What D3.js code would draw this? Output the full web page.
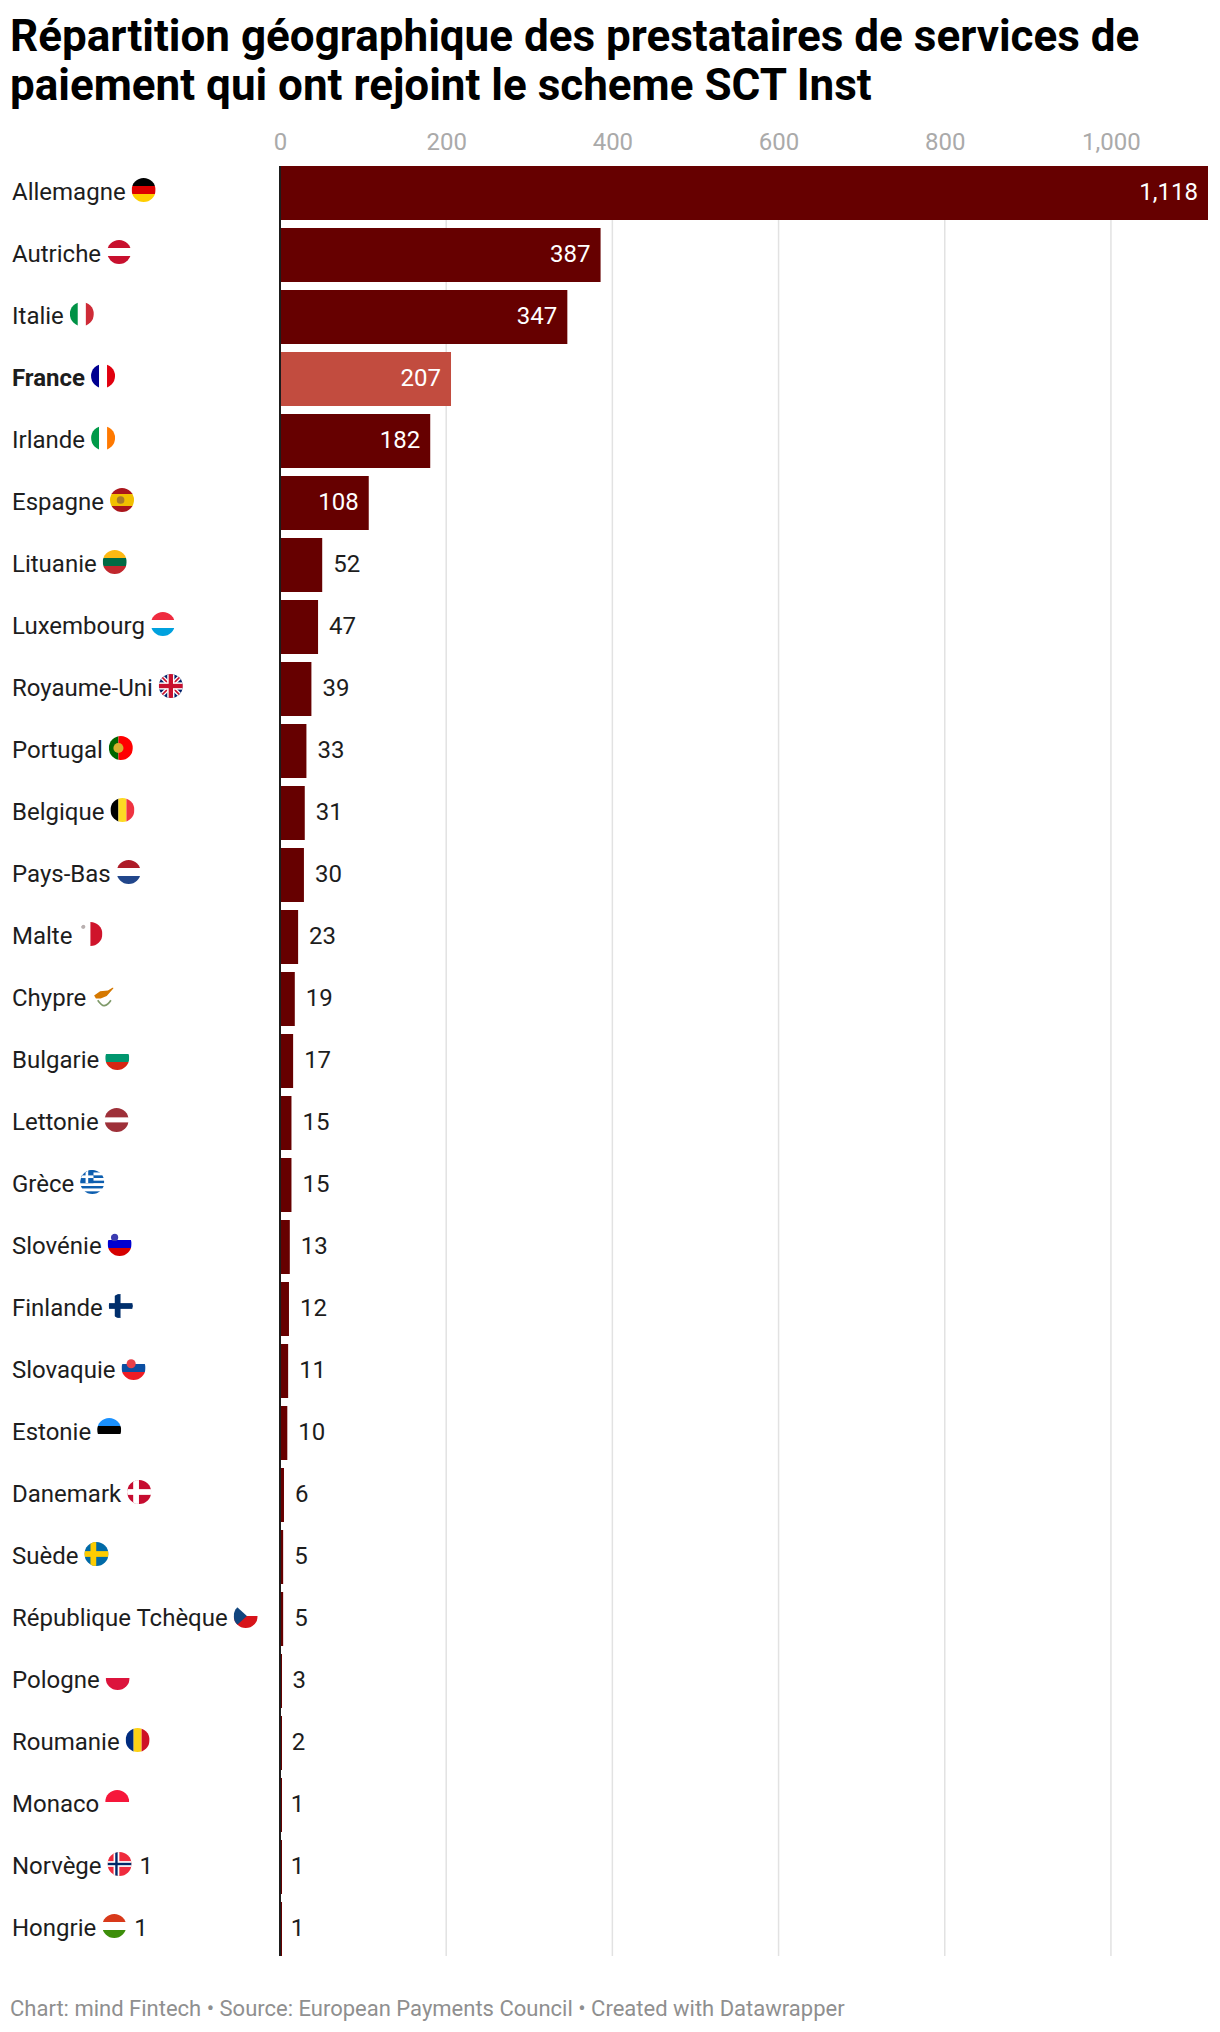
<!DOCTYPE html>
<html>
<head>
<meta charset="utf-8">
<script src="https://cdn.jsdelivr.net/npm/d3@7"></script>
<style>
    html, body { margin: 0; padding: 0; background: #fff; }
    svg { display: block; font-family: Roboto, sans-serif; }
</style>
</head>
<body>
<div id="chart"></div>
<script>
const titleLines = [
    "Répartition géographique des prestataires de services de",
    "paiement qui ont rejoint le scheme SCT Inst"
]
const footer = "Chart: mind Fintech • Source: European Payments Council • Created with Datawrapper"

const countries = ["Allemagne", "Autriche", "Italie", "France", "Irlande", "Espagne", "Lituanie", "Luxembourg",
    "Royaume-Uni", "Portugal", "Belgique", "Pays-Bas", "Malte", "Chypre", "Bulgarie", "Lettonie", "Grèce",
    "Slovénie", "Finlande", "Slovaquie", "Estonie", "Danemark", "Suède", "République Tchèque", "Pologne",
    "Roumanie", "Monaco", "Norvège", "Hongrie"]
const values = [1118, 387, 347, 207, 182, 108, 52, 47, 39, 33, 31, 30, 23, 19, 17, 15, 15, 13, 12, 11, 10, 6, 5, 5, 3, 2, 1, 1, 1]
const labelSuffix = { "Norvège": " 1", "Hongrie": " 1" }
const highlighted = ["France"]
const xTicks = [0, 200, 400, 600, 800, 1000]

// flag styles: h / v stripes with optional weights, or a nordic cross
const flags = {
    "Allemagne": { h: ["#000000", "#dd0000", "#ffce00"] },
    "Autriche": { h: ["#c8102e", "#ffffff", "#c8102e"] },
    "Italie": { v: ["#009246", "#ffffff", "#ce2b37"] },
    "France": { v: ["#000091", "#ffffff", "#e1000f"] },
    "Irlande": { v: ["#009a49", "#ffffff", "#ff7900"] },
    "Espagne": { h: ["#aa151b", "#f1bf00", "#aa151b"], w: [1, 2, 1], crest: ["#a8792a", 0.32, -0.12, 0] },
    "Lituanie": { h: ["#fdb913", "#006a44", "#c1272d"] },
    "Luxembourg": { h: ["#ef2b3f", "#ffffff", "#00a1de"] },
    "Royaume-Uni": { uk: true },
    "Portugal": { v: ["#006600", "#ff0000"], w: [2, 3], crest: ["#d8b030", 0.42, -0.2, 0] },
    "Belgique": { v: ["#000000", "#fdda24", "#ef3340"] },
    "Pays-Bas": { h: ["#ae1c28", "#ffffff", "#21468b"] },
    "Malte": { v: ["#ffffff", "#cf142b"], crest: ["#b9b0b0", 0.18, -0.6, -0.6] },
    "Chypre": { cyprus: true },
    "Bulgarie": { h: ["#ffffff", "#00966e", "#d62612"] },
    "Lettonie": { h: ["#9e3039", "#ffffff", "#9e3039"], w: [2, 1, 2] },
    "Grèce": { greece: true },
    "Slovénie": { h: ["#ffffff", "#0000d0", "#d50000"], crest: ["#3b3bb0", 0.3, -0.42, -0.55] },
    "Finlande": { cross: ["#ffffff", "#002f6c", "#002f6c"] },
    "Slovaquie": { h: ["#ffffff", "#0b4ea2", "#ee1c25"], crest: ["#e8404a", 0.38, -0.2, -0.35] },
    "Estonie": { h: ["#1a91ff", "#000000", "#ffffff"] },
    "Danemark": { cross: ["#c60c30", "#ffffff", "#ffffff"] },
    "Suède": { cross: ["#006aa7", "#fecc00", "#fecc00"] },
    "République Tchèque": { czech: true },
    "Pologne": { h: ["#ffffff", "#dc143c"] },
    "Roumanie": { v: ["#002b7f", "#fcd116", "#ce1126"] },
    "Monaco": { h: ["#f6173a", "#ffffff"] },
    "Norvège": { cross: ["#ef2b3d", "#ffffff", "#002868"] },
    "Hongrie": { h: ["#d8391a", "#ffffff", "#3d8e0b"] }
}

const width = 1220, height = 2032
const margin = { top: 166, left: 280, right: 1209, bottom: 1956 }
const flagR = 12

const x = d3.scaleLinear().domain([0, 1118]).range([margin.left, margin.right])
const y = d3.scaleBand().domain(countries).range([margin.top, margin.bottom]).paddingInner(8 / 62)

const svg = d3.select("#chart").append("svg")
    .attr("width", width)
    .attr("height", height)

svg.append("clipPath").attr("id", "flag-clip")
    .append("circle").attr("r", 1)

// title
svg.append("g").selectAll("text")
    .data(titleLines)
    .join("text")
    .attr("x", 10)
    .attr("y", (d, i) => 50.5 + i * 49.5)
    .attr("font-size", 44)
    .attr("font-weight", 700)
    .attr("fill", "#000")
    .text(d => d)

// grid lines and top axis
svg.append("g").selectAll("line")
    .data(xTicks.slice(1))
    .join("line")
    .attr("x1", d => x(d))
    .attr("x2", d => x(d))
    .attr("y1", margin.top)
    .attr("y2", margin.bottom)
    .attr("stroke", "#e2e2e2")
    .attr("stroke-width", 1.5)

const axis = svg.append("g")
    .attr("transform", "translate(0,141)")
    .call(d3.axisTop(x).tickValues(xTicks).tickSize(0).tickPadding(0).tickFormat(d3.format(",")))
axis.select(".domain").remove()
axis.selectAll("text")
    .attr("font-family", "Roboto, sans-serif")
    .attr("font-size", 24)
    .attr("dy", 9)
    .attr("fill", "#aaaaaa")

// bars stop 1px short of their value, with a sliver left for the smallest ones
svg.append("g").selectAll("rect")
    .data(countries)
    .join("rect")
    .attr("x", x(0))
    .attr("y", d => y(d))
    .attr("width", (d, i) => Math.max(x(values[i]) - x(0) - 1, 2))
    .attr("height", y.bandwidth())
    .attr("fill", d => highlighted.includes(d) ? "#c24c3f" : "#660000")

// zero line
svg.append("line")
    .attr("x1", x(0))
    .attr("x2", x(0))
    .attr("y1", margin.top)
    .attr("y2", margin.bottom)
    .attr("stroke", "#1d1d1d")
    .attr("stroke-width", 2)

// value labels
svg.append("g").selectAll("text")
    .data(countries)
    .join("text")
    .attr("x", (d, i) => values[i] >= 100 ? x(values[i]) - 11 : x(values[i]) + 10)
    .attr("y", d => y(d) + y.bandwidth() / 2 + 7)
    .attr("text-anchor", (d, i) => values[i] >= 100 ? "end" : "start")
    .attr("font-size", 24)
    .attr("fill", (d, i) => values[i] >= 100 ? "#fff" : "#1d1d1d")
    .text((d, i) => d3.format(",")(values[i]))

// country labels, the flag sits between the name and any suffix
const rows = svg.append("g").selectAll("g")
    .data(countries)
    .join("g")
    .attr("transform", d => "translate(12," + (y(d) + y.bandwidth() / 2 + 7) + ")")

rows.append("text")
    .attr("font-size", 24)
    .attr("font-weight", d => highlighted.includes(d) ? 700 : 400)
    .attr("fill", "#1d1d1d")
    .text(d => d)

rows.each(function(d) {
    const row = d3.select(this)
    const w = row.select("text").node().getComputedTextLength()
    const flag = row.append("g")
        .attr("transform", "translate(" + (w + 6 + flagR) + ",-10) scale(" + flagR + ")")
        .attr("clip-path", "url(#flag-clip)")
    drawFlag(flag, flags[d])
    if (labelSuffix[d]) {
        row.append("text")
            .attr("x", w + 6 + 2 * flagR + 8)
            .attr("font-size", 24)
            .attr("fill", "#1d1d1d")
            .text(labelSuffix[d].trim())
    }
})

function box(g, bx, by, w, h, fill) {
    g.append("rect").attr("x", bx).attr("y", by).attr("width", w).attr("height", h).attr("fill", fill)
}

function drawStripes(g, colors, weights, horizontal) {
    const wts = weights || colors.map(() => 1)
    const total = d3.sum(wts)
    const pos = d3.scaleLinear().domain([0, total]).range([-1, 1])
    let acc = 0
    colors.forEach((c, i) => {
        const a = pos(acc), b = pos(acc + wts[i])
        if (horizontal) box(g, -1, a, 2, b - a, c)
        else box(g, a, -1, b - a, 2, c)
        acc += wts[i]
    })
}

function drawFlag(g, f) {
    if (f.h) drawStripes(g, f.h, f.w, true)
    if (f.v) drawStripes(g, f.v, f.w, false)
    if (f.crest) {
        g.append("circle")
            .attr("cx", f.crest[2])
            .attr("cy", f.crest[3])
            .attr("r", f.crest[1])
            .attr("fill", f.crest[0])
    }
    if (f.cross) {
        box(g, -1, -1, 2, 2, f.cross[0])
        box(g, -1, -0.24, 2, 0.48, f.cross[1])
        box(g, -0.5, -1, 0.48, 2, f.cross[1])
        box(g, -1, -0.1, 2, 0.2, f.cross[2])
        box(g, -0.36, -1, 0.2, 2, f.cross[2])
    }
    if (f.uk) {
        box(g, -1, -1, 2, 2, "#012169")
        g.append("path").attr("d", "M-1,-1L1,1M1,-1L-1,1").attr("stroke", "#fff").attr("stroke-width", 0.36)
        g.append("path").attr("d", "M-1,-1L1,1M1,-1L-1,1").attr("stroke", "#c8102e").attr("stroke-width", 0.14)
        box(g, -1, -0.3, 2, 0.6, "#fff")
        box(g, -0.3, -1, 0.6, 2, "#fff")
        box(g, -1, -0.18, 2, 0.36, "#c8102e")
        box(g, -0.18, -1, 0.36, 2, "#c8102e")
    }
    if (f.greece) {
        drawStripes(g, ["#0d5eaf", "#fff", "#0d5eaf", "#fff", "#0d5eaf", "#fff", "#0d5eaf", "#fff", "#0d5eaf"], null, true)
        box(g, -1, -1, 1.1, 1.1, "#0d5eaf")
        box(g, -1, -0.55, 1.1, 0.22, "#fff")
        box(g, -0.56, -1, 0.22, 1.1, "#fff")
    }
    if (f.czech) {
        drawStripes(g, ["#ffffff", "#d7141a"], null, true)
        g.append("path").attr("d", "M-1,-1L0.1,0L-1,1Z").attr("fill", "#11457e")
    }
    if (f.cyprus) {
        box(g, -1, -1, 2, 2, "#ffffff")
        g.append("path").attr("d", "M-0.85,-0.05L-0.35,-0.4L0.3,-0.45L0.95,-0.85L0.55,-0.4L0.2,0L-0.3,0.2L-0.7,0.2Z").attr("fill", "#d57800")
        g.append("path").attr("d", "M-0.55,0.35Q-0.2,0.85 0,0.8Q0.3,0.75 0.55,0.35").attr("fill", "none")
            .attr("stroke", "#7f9a6a").attr("stroke-width", 0.14)
    }
}

// footer
svg.append("text")
    .attr("x", 10)
    .attr("y", 2016)
    .attr("font-size", 22)
    .attr("fill", "#8f8f8f")
    .text(footer)
</script>
</body>
</html>
